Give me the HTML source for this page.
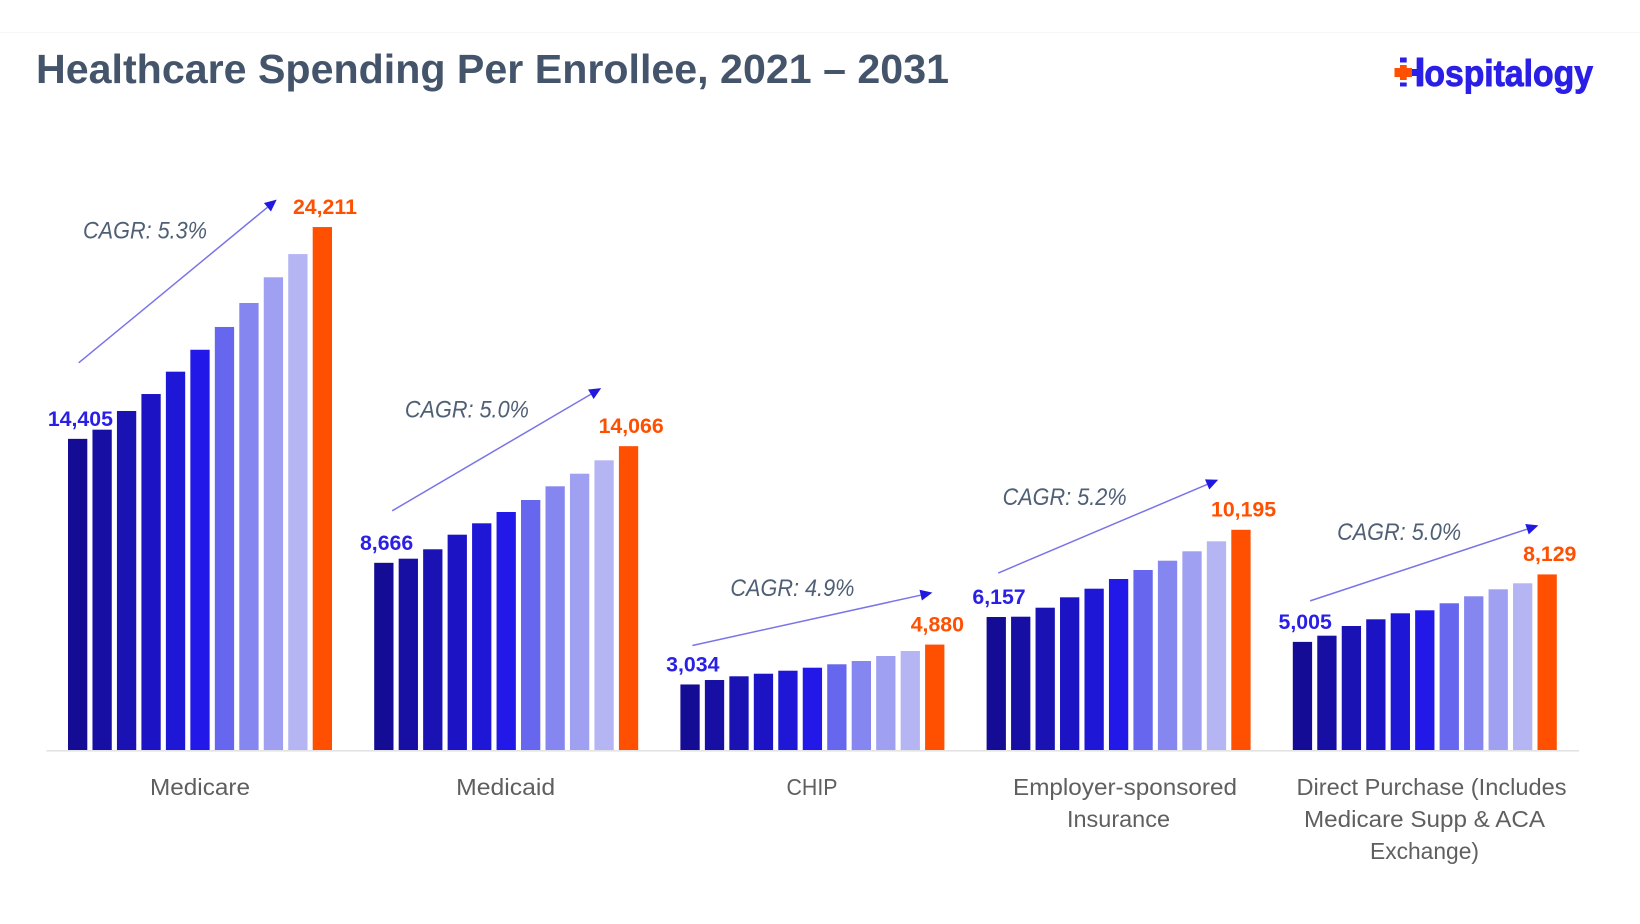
<!DOCTYPE html>
<html lang="en">
<head>
<meta charset="utf-8">
<title>Healthcare Spending Per Enrollee, 2021 – 2031</title>
<style>
  html, body { margin: 0; padding: 0; background: #ffffff; }
  #chart { display: block; width: 1640px; height: 924px; font-family: "Liberation Sans", sans-serif; }
</style>
</head>
<body>
<svg id="chart" xmlns="http://www.w3.org/2000/svg" width="1640" height="924" viewBox="0 0 1640 924">
  <rect x="0" y="0" width="1640" height="924" fill="#ffffff"/>
  <rect x="0" y="32" width="1640" height="1" fill="#f7f7f7"/>
  <text x="36" y="83" font-size="41" font-weight="700" fill="#44546a" textLength="913" lengthAdjust="spacingAndGlyphs">Healthcare Spending Per Enrollee, 2021 – 2031</text>
  <g>
    <text x="1400" y="86" font-size="37" font-weight="700" fill="#2a1fe6" stroke="#2a1fe6" stroke-width="0.9" textLength="193" lengthAdjust="spacingAndGlyphs">Hospitalogy</text>
    <rect x="1392" y="54" width="24.7" height="36" fill="#ffffff"/>
    <rect x="1416.7" y="57.5" width="6.6" height="28.5" fill="#2a1fe6"/>
    <rect x="1412" y="69" width="5" height="7" fill="#2a1fe6"/>
    <rect x="1400" y="57.5" width="6.7" height="5" fill="#2a1fe6"/>
    <rect x="1400" y="82.5" width="6.7" height="4" fill="#2a1fe6"/>
    <rect x="1394.5" y="68" width="17.5" height="9" fill="#ff4f00"/>
    <rect x="1400" y="65" width="6.7" height="15" fill="#ff4f00"/>
  </g>
  <g id="plot"></g>
</svg>
<script>
// Chart data (dollars per enrollee, 2021 through 2031)
const years = [2021, 2022, 2023, 2024, 2025, 2026, 2027, 2028, 2029, 2030, 2031];
const medicareValues = [14405, 14830, 15695, 16480, 17515, 18530, 19585, 20695, 21885, 22960, 24211];
const medicaidValues = [8666, 8857, 9292, 9968, 10495, 11019, 11574, 12208, 12792, 13412, 14066];
const chipValues = [3034, 3240, 3412, 3532, 3671, 3810, 3968, 4120, 4352, 4583, 4880];
const employerValues = [6157, 6171, 6588, 7069, 7468, 7917, 8333, 8764, 9199, 9662, 10195];
const directValues = [5005, 5292, 5741, 6051, 6329, 6468, 6792, 7116, 7440, 7718, 8129];
const cagrLabels = ["CAGR: 5.3%", "CAGR: 5.0%", "CAGR: 4.9%", "CAGR: 5.2%", "CAGR: 5.0%"];
const seriesSlugs = ["medicare", "medicaid", "chip", "employer", "direct-purchase"];
const barPalette = ["#140c94", "#170fa3", "#1a12b3", "#1c14c4", "#1f17d6", "#2219e8", "#6666ee", "#8686f0", "#a0a0f2", "#b5b5f4", "#ff4f00"];

const allSeries = [medicareValues, medicaidValues, chipValues, employerValues, directValues];

const SVG_NS = "http://www.w3.org/2000/svg";
const plot = document.getElementById("plot");
const BASELINE = 750;
const PX_PER_UNIT = 0.0216;
const GROUP_START = 68;
const GROUP_PITCH = 306.2;
const BAR_PITCH = 24.47;
const BAR_WIDTH = 19.3;
const BLUE = "#2a1fe6";
const ORANGE = "#ff4f00";

function yScale(v) { return BASELINE - v * PX_PER_UNIT; }
function groupX(g) { return GROUP_START + g * GROUP_PITCH; }
function barX(g, i) { return groupX(g) + i * BAR_PITCH; }
function fmt(v) { return Math.round(v).toLocaleString("en-US"); }

function make(tag, attrs, text) {
  const el = document.createElementNS(SVG_NS, tag);
  for (const k in attrs) el.setAttribute(k, attrs[k]);
  if (text !== undefined) el.textContent = text;
  plot.appendChild(el);
  return el;
}

// Axis baseline
const axisLine = make("rect", { x: 46.5, y: BASELINE, width: 1532.5, height: 1.6, fill: "#e3e3e3" });



// Bars and first / last value labels
allSeries.forEach(function (values, g) {
  values.forEach(function (v, i) {
    const bar = make("rect", {
      x: barX(g, i), y: yScale(v), width: BAR_WIDTH, height: BASELINE - yScale(v), fill: barPalette[i]
    });
    
    
  });
  const first = values[0];
  const last = values[values.length - 1];
  const firstLabel = make("text", {
    x: barX(g, 0) + 12.4, y: yScale(first) - 13, "font-size": 21.3, "font-weight": 700,
    "text-anchor": "middle", fill: BLUE
  }, fmt(first));
  
  
  const lastLabel = make("text", {
    x: barX(g, values.length - 1) + BAR_WIDTH / 2 + 2.6, y: yScale(last) - 13.2, "font-size": 21.3, "font-weight": 700,
    "text-anchor": "middle", fill: ORANGE
  }, fmt(last));
  
  
});

// CAGR arrows and labels, anchored to each group's first and last bars
function annotate(g, sdx, sdy, tdx, tdy, ldx, ldy) {
  const values = allSeries[g];
  const x0 = groupX(g);
  const sx = x0 + sdx;
  const sy = yScale(values[0]) - sdy;
  const tx = x0 + tdx;
  const ty = yScale(values[values.length - 1]) - tdy;
  const ang = Math.atan2(ty - sy, tx - sx);
  const len = 12;
  const half = 5.5;
  const bx = tx - len * Math.cos(ang);
  const by = ty - len * Math.sin(ang);
  const line = make("line", { x1: sx, y1: sy, x2: bx, y2: by, stroke: "#7a74e8", "stroke-width": 1.5 });
  
  
  const pts = [
    tx + "," + ty,
    (bx - half * Math.sin(ang)) + "," + (by + half * Math.cos(ang)),
    (bx + half * Math.sin(ang)) + "," + (by - half * Math.cos(ang))
  ].join(" ");
  const head = make("polygon", { points: pts, fill: "#2219e0" });
  
  
  const label = make("text", {
    x: x0 + ldx, y: yScale(values[values.length - 1]) + ldy, "font-size": 24, "font-style": "italic",
    fill: "#4f5f75", textLength: 124, lengthAdjust: "spacingAndGlyphs"
  }, cagrLabels[g]);
  
  
}
annotate(0, 10.7, 76, 208.7, 27.4, 15, 11.7);
annotate(1, 18, 52, 227, 58, 30.7, -28.7);
annotate(2, 12, 39, 252, 52, 50, -48.5);
annotate(3, 11.6, 44, 231.6, 50, 16, -24.6);
annotate(4, 17.3, 41, 245.6, 49, 44.3, -34.3);

// Category labels
function catLine(text, slug, cx, y, w) {
  const t = make("text", {
    x: cx, y: y, "font-size": 23, "text-anchor": "middle", fill: "#5f5f5f",
    textLength: w, lengthAdjust: "spacingAndGlyphs"
  }, text);
  
  
}
catLine("Medicare", "category-label-medicare", 200, 795, 100);
catLine("Medicaid", "category-label-medicaid", 505.7, 795, 99);
catLine("CHIP", "category-label-chip", 812, 795, 51);
catLine("Employer-sponsored", "category-label-employer-line-1", 1125, 795, 224);
catLine("Insurance", "category-label-employer-line-2", 1118.5, 827, 103);
catLine("Direct Purchase (Includes", "category-label-direct-line-1", 1431.5, 795, 270);
catLine("Medicare Supp & ACA", "category-label-direct-line-2", 1424.5, 827, 241);
catLine("Exchange)", "category-label-direct-line-3", 1424.5, 859, 109);
</script>
</body>
</html>
